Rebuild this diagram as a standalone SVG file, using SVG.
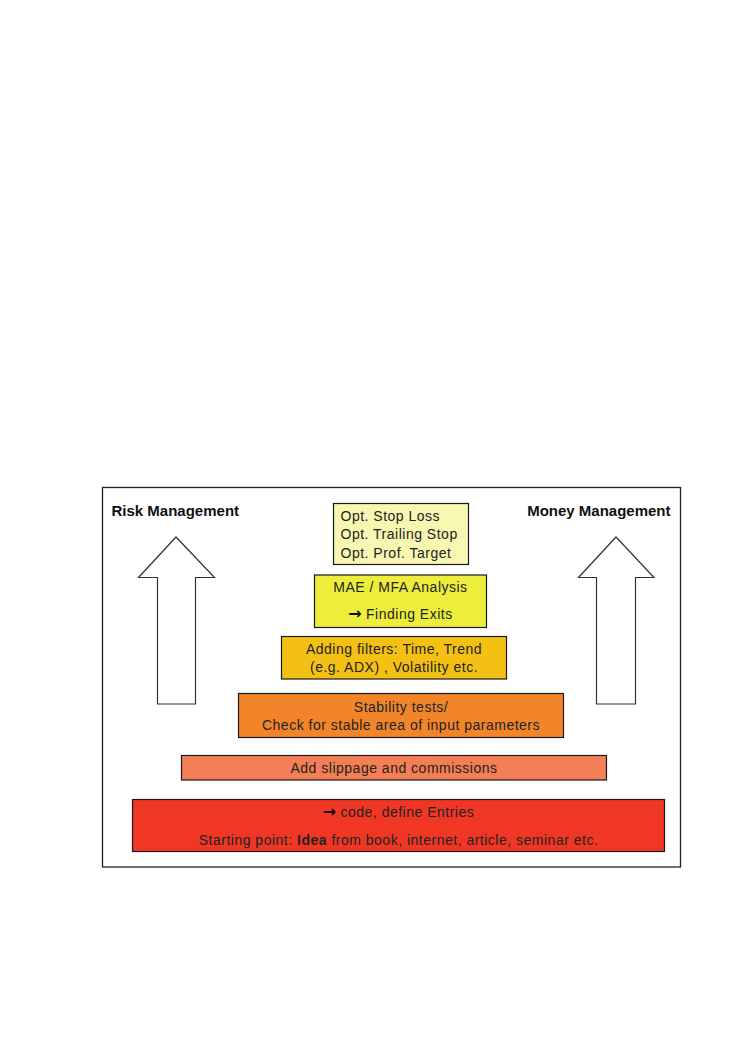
<svg xmlns="http://www.w3.org/2000/svg" width="744" height="1042" viewBox="0 0 744 1042">
<style>
.box{stroke:#1a1a1a;stroke-width:1.2}
.t{font-family:"Liberation Sans",Arial,sans-serif;font-size:14px;letter-spacing:0.5px;fill:#222}
.c{text-anchor:middle}
.h{font-family:"Liberation Sans",Arial,sans-serif;font-size:15px;font-weight:bold;fill:#111}
.ar{font-family:"DejaVu Sans",sans-serif;font-weight:bold;font-size:16px;letter-spacing:0;fill:#111}
.arrow{fill:#fff;stroke:#333;stroke-width:1.2}
</style>
<rect x="0" y="0" width="744" height="1042" fill="#fff"/>
<rect x="102.5" y="487.5" width="578" height="379.5" fill="#fff" stroke="#222" stroke-width="1.3"/>
<g id="labels">
<text class="h" x="111.5" y="515.5">Risk Management</text>
<text class="h" x="670.5" y="515.5" text-anchor="end">Money Management</text>
</g>
<g id="connectors">
<path id="arrow-left" class="arrow" d="M176,537 L214.5,577.5 L195.5,577.5 L195.5,704 L157.5,704 L157.5,577.5 L138.5,577.5 Z"/>
<path id="arrow-right" class="arrow" d="M616,537 L654,577.5 L635.5,577.5 L635.5,704 L596.5,704 L596.5,577.5 L578.5,577.5 Z"/>
</g>
<g id="node-stops">
<rect class="box" x="333.5" y="503.5" width="135" height="61" fill="#F7F7B2"/>
<text class="t" x="340.5" y="520.5">Opt. Stop Loss</text>
<text class="t" x="340.5" y="539">Opt. Trailing Stop</text>
<text class="t" x="340.5" y="557.5">Opt. Prof. Target</text>
</g>
<g id="node-mae">
<rect class="box" x="314.5" y="575" width="172" height="52.5" fill="#EDED3C"/>
<text class="t c" x="400.5" y="591.5">MAE / MFA Analysis</text>
<text class="t c" x="400.5" y="619"><tspan class="ar">→</tspan> Finding Exits</text>
</g>
<g id="node-filters">
<rect class="box" x="281.5" y="636.5" width="225" height="42.5" fill="#F5C014"/>
<text class="t c" x="394" y="654.3">Adding filters: Time, Trend</text>
<text class="t c" x="394" y="672.3">(e.g. ADX) , Volatility etc.</text>
</g>
<g id="node-stability">
<rect class="box" x="238.5" y="693.5" width="325" height="44" fill="#F2852A"/>
<text class="t c" x="401" y="711.7">Stability tests/</text>
<text class="t c" x="401" y="730">Check for stable area of input parameters</text>
</g>
<g id="node-slippage">
<rect class="box" x="181.5" y="755.5" width="425" height="24.5" fill="#F47E55"/>
<text class="t c" x="394" y="773.3">Add slippage and commissions</text>
</g>
<g id="node-start">
<rect class="box" x="132.5" y="799.5" width="532" height="52" fill="#F03726"/>
<text class="t c" x="398.5" y="817.3"><tspan class="ar">→</tspan> code, define Entries</text>
<text class="t c" x="398.5" y="844.7">Starting point: <tspan font-weight="bold">Idea</tspan> from book, internet, article, seminar etc.</text>
</g>
</svg>
